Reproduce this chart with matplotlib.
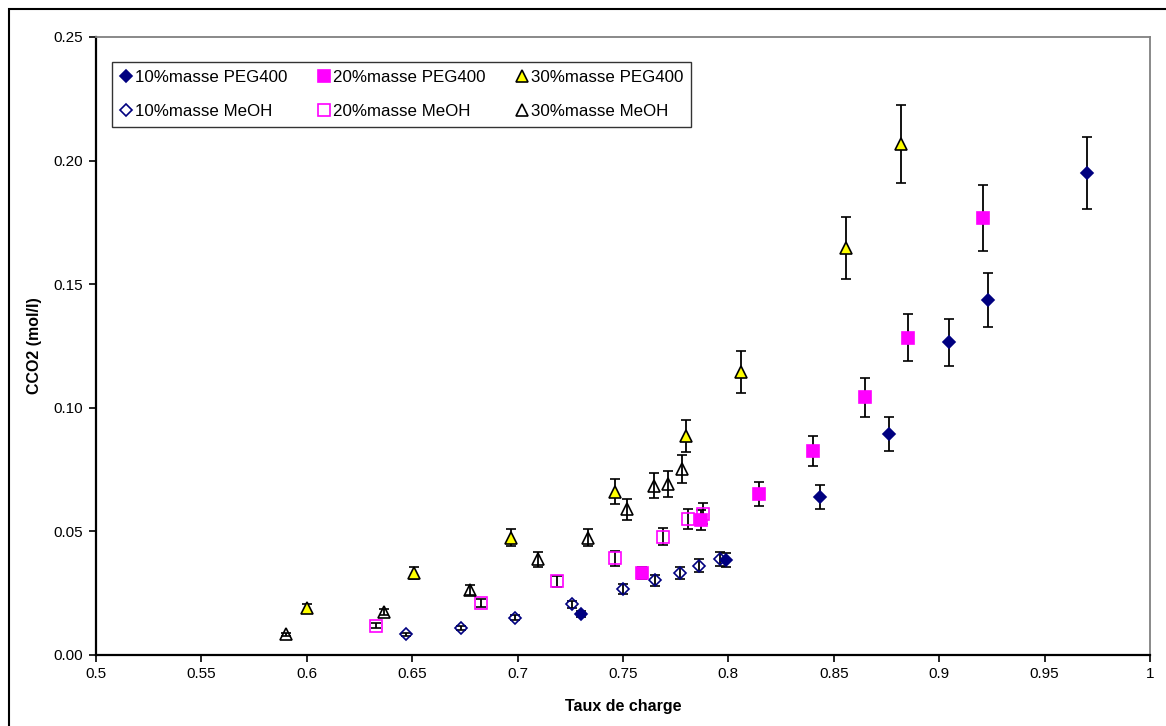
import matplotlib
matplotlib.use("Agg")
import matplotlib.pyplot as plt
from matplotlib.patches import Rectangle

plt.rcParams["font.family"] = ["Liberation Sans", "DejaVu Sans"]

# 10% masse PEG400
peg10_x = [0.730, 0.799, 0.8435, 0.876, 0.9045, 0.923, 0.970]
peg10_y = [0.0165, 0.0383, 0.0639, 0.0893, 0.1266, 0.1436, 0.1950]
peg10_err = [0.0012, 0.0029, 0.0047, 0.0068, 0.0095, 0.0108, 0.0147]

# 20% masse PEG400
peg20_x = [0.759, 0.787, 0.8145, 0.840, 0.865, 0.885, 0.921]
peg20_y = [0.0333, 0.0546, 0.0651, 0.0825, 0.1042, 0.1284, 0.1768]
peg20_err = [0.0025, 0.0041, 0.0049, 0.0062, 0.0078, 0.0096, 0.0132]

# 30% masse PEG400
peg30_x = [0.600, 0.651, 0.697, 0.746, 0.780, 0.806, 0.856, 0.882]
peg30_y = [0.0192, 0.0333, 0.0475, 0.0661, 0.0886, 0.1145, 0.1646, 0.2067]
peg30_err = [0.0014, 0.0025, 0.0036, 0.0049, 0.0066, 0.0086, 0.0124, 0.0157]

# 10% masse MeOH
meoh10_x = [0.647, 0.673, 0.699, 0.726, 0.750, 0.765, 0.777, 0.786, 0.796]
meoh10_y = [0.0084, 0.0111, 0.0151, 0.0205, 0.0266, 0.0302, 0.0333, 0.0361, 0.0388]
meoh10_err = [0.0006, 0.0008, 0.0011, 0.0015, 0.0020, 0.0023, 0.0025, 0.0027, 0.0029]

# 20% masse MeOH
meoh20_x = [0.633, 0.6825, 0.7187, 0.746, 0.769, 0.781, 0.788]
meoh20_y = [0.0119, 0.0209, 0.0299, 0.0391, 0.0479, 0.0549, 0.0572]
meoh20_err = [0.0009, 0.0016, 0.0022, 0.0029, 0.0036, 0.0041, 0.0043]

# 30% masse MeOH
meoh30_x = [0.590, 0.6366, 0.6774, 0.7098, 0.7332, 0.752, 0.7647, 0.7715, 0.7778]
meoh30_y = [0.0084, 0.0175, 0.0263, 0.0387, 0.0475, 0.0589, 0.0685, 0.0693, 0.0754]
meoh30_err = [0.0006, 0.0013, 0.0020, 0.0029, 0.0036, 0.0044, 0.0051, 0.0052, 0.0057]

x_ticks = [0.5, 0.55, 0.6, 0.65, 0.7, 0.75, 0.8, 0.85, 0.9, 0.95, 1.0]
x_labels = ["0.5", "0.55", "0.6", "0.65", "0.7", "0.75", "0.8", "0.85", "0.9", "0.95", "1"]
y_ticks = [0.0, 0.05, 0.10, 0.15, 0.20, 0.25]

navy = "#000080"
magenta = "#FF00FF"
yellow = "#FFFF00"

fig = plt.figure(figsize=(11.66, 7.26), dpi=100)
ax = fig.add_axes([96 / 1166, 71 / 726, 1054 / 1166, 618 / 726])

eb = dict(ecolor="black", elinewidth=1.3, capsize=3.6, capthick=1.3, linestyle="none")

series = [
    (peg10_x, peg10_y, peg10_err, "D", navy, navy, 6.5, "10%masse PEG400"),
    (meoh10_x, meoh10_y, meoh10_err, "D", "none", navy, 6.5, "10%masse MeOH"),
    (peg20_x, peg20_y, peg20_err, "s", magenta, magenta, 8.5, "20%masse PEG400"),
    (meoh20_x, meoh20_y, meoh20_err, "s", "none", magenta, 8.5, "20%masse MeOH"),
    (peg30_x, peg30_y, peg30_err, "^", yellow, "black", 8.8, "30%masse PEG400"),
    (meoh30_x, meoh30_y, meoh30_err, "^", "none", "black", 8.8, "30%masse MeOH"),
]

handles = []
for xs, ys, err, m, fc, ec, ms, lab in series:
    h = ax.errorbar(xs, ys, yerr=err, marker=m, markersize=ms, markerfacecolor=fc,
                    markeredgecolor=ec, markeredgewidth=1.2, label=lab, **eb)
    handles.append(h)

ax.set_xlim(0.5, 1.0)
ax.set_ylim(0.0, 0.25)
ax.set_xticks(x_ticks)
ax.set_xticklabels(x_labels)
ax.set_yticks(y_ticks)
ax.set_yticklabels([f"{v:.2f}" for v in y_ticks])
ax.tick_params(axis="both", direction="out", length=5, width=1.2, labelsize=11, pad=4)

for side in ["left", "bottom"]:
    ax.spines[side].set_linewidth(1.6)
    ax.spines[side].set_color("black")
for side in ["top", "right"]:
    ax.spines[side].set_linewidth(1.3)
    ax.spines[side].set_color("#808080")

leg = ax.legend(handles=[h[0] for h in handles], labels=[s[7] for s in series],
                ncol=3, loc="upper left", bbox_to_anchor=(0.0152, 0.9595),
                borderaxespad=0, fontsize=12.2, frameon=True, fancybox=False,
                edgecolor="black", handlelength=0.7, handletextpad=0.2,
                columnspacing=1.8, borderpad=0.45, labelspacing=1.15)
leg.get_frame().set_linewidth(1.0)

fig.text(35 / 1166, 1 - 346 / 726, "CCO2 (mol/l)", rotation=90, ha="center", va="center",
         fontsize=11.5, fontweight="bold")
fig.text(623 / 1166, 1 - 707 / 726, "Taux de charge", ha="center", va="center",
         fontsize=11.5, fontweight="bold")

fig.add_artist(Rectangle((9 / 1166, -0.1), 2, 1 - 9 / 726 + 0.1, transform=fig.transFigure,
                         fill=False, edgecolor="black", linewidth=1.5))

fig.savefig("out.png", dpi=100)
